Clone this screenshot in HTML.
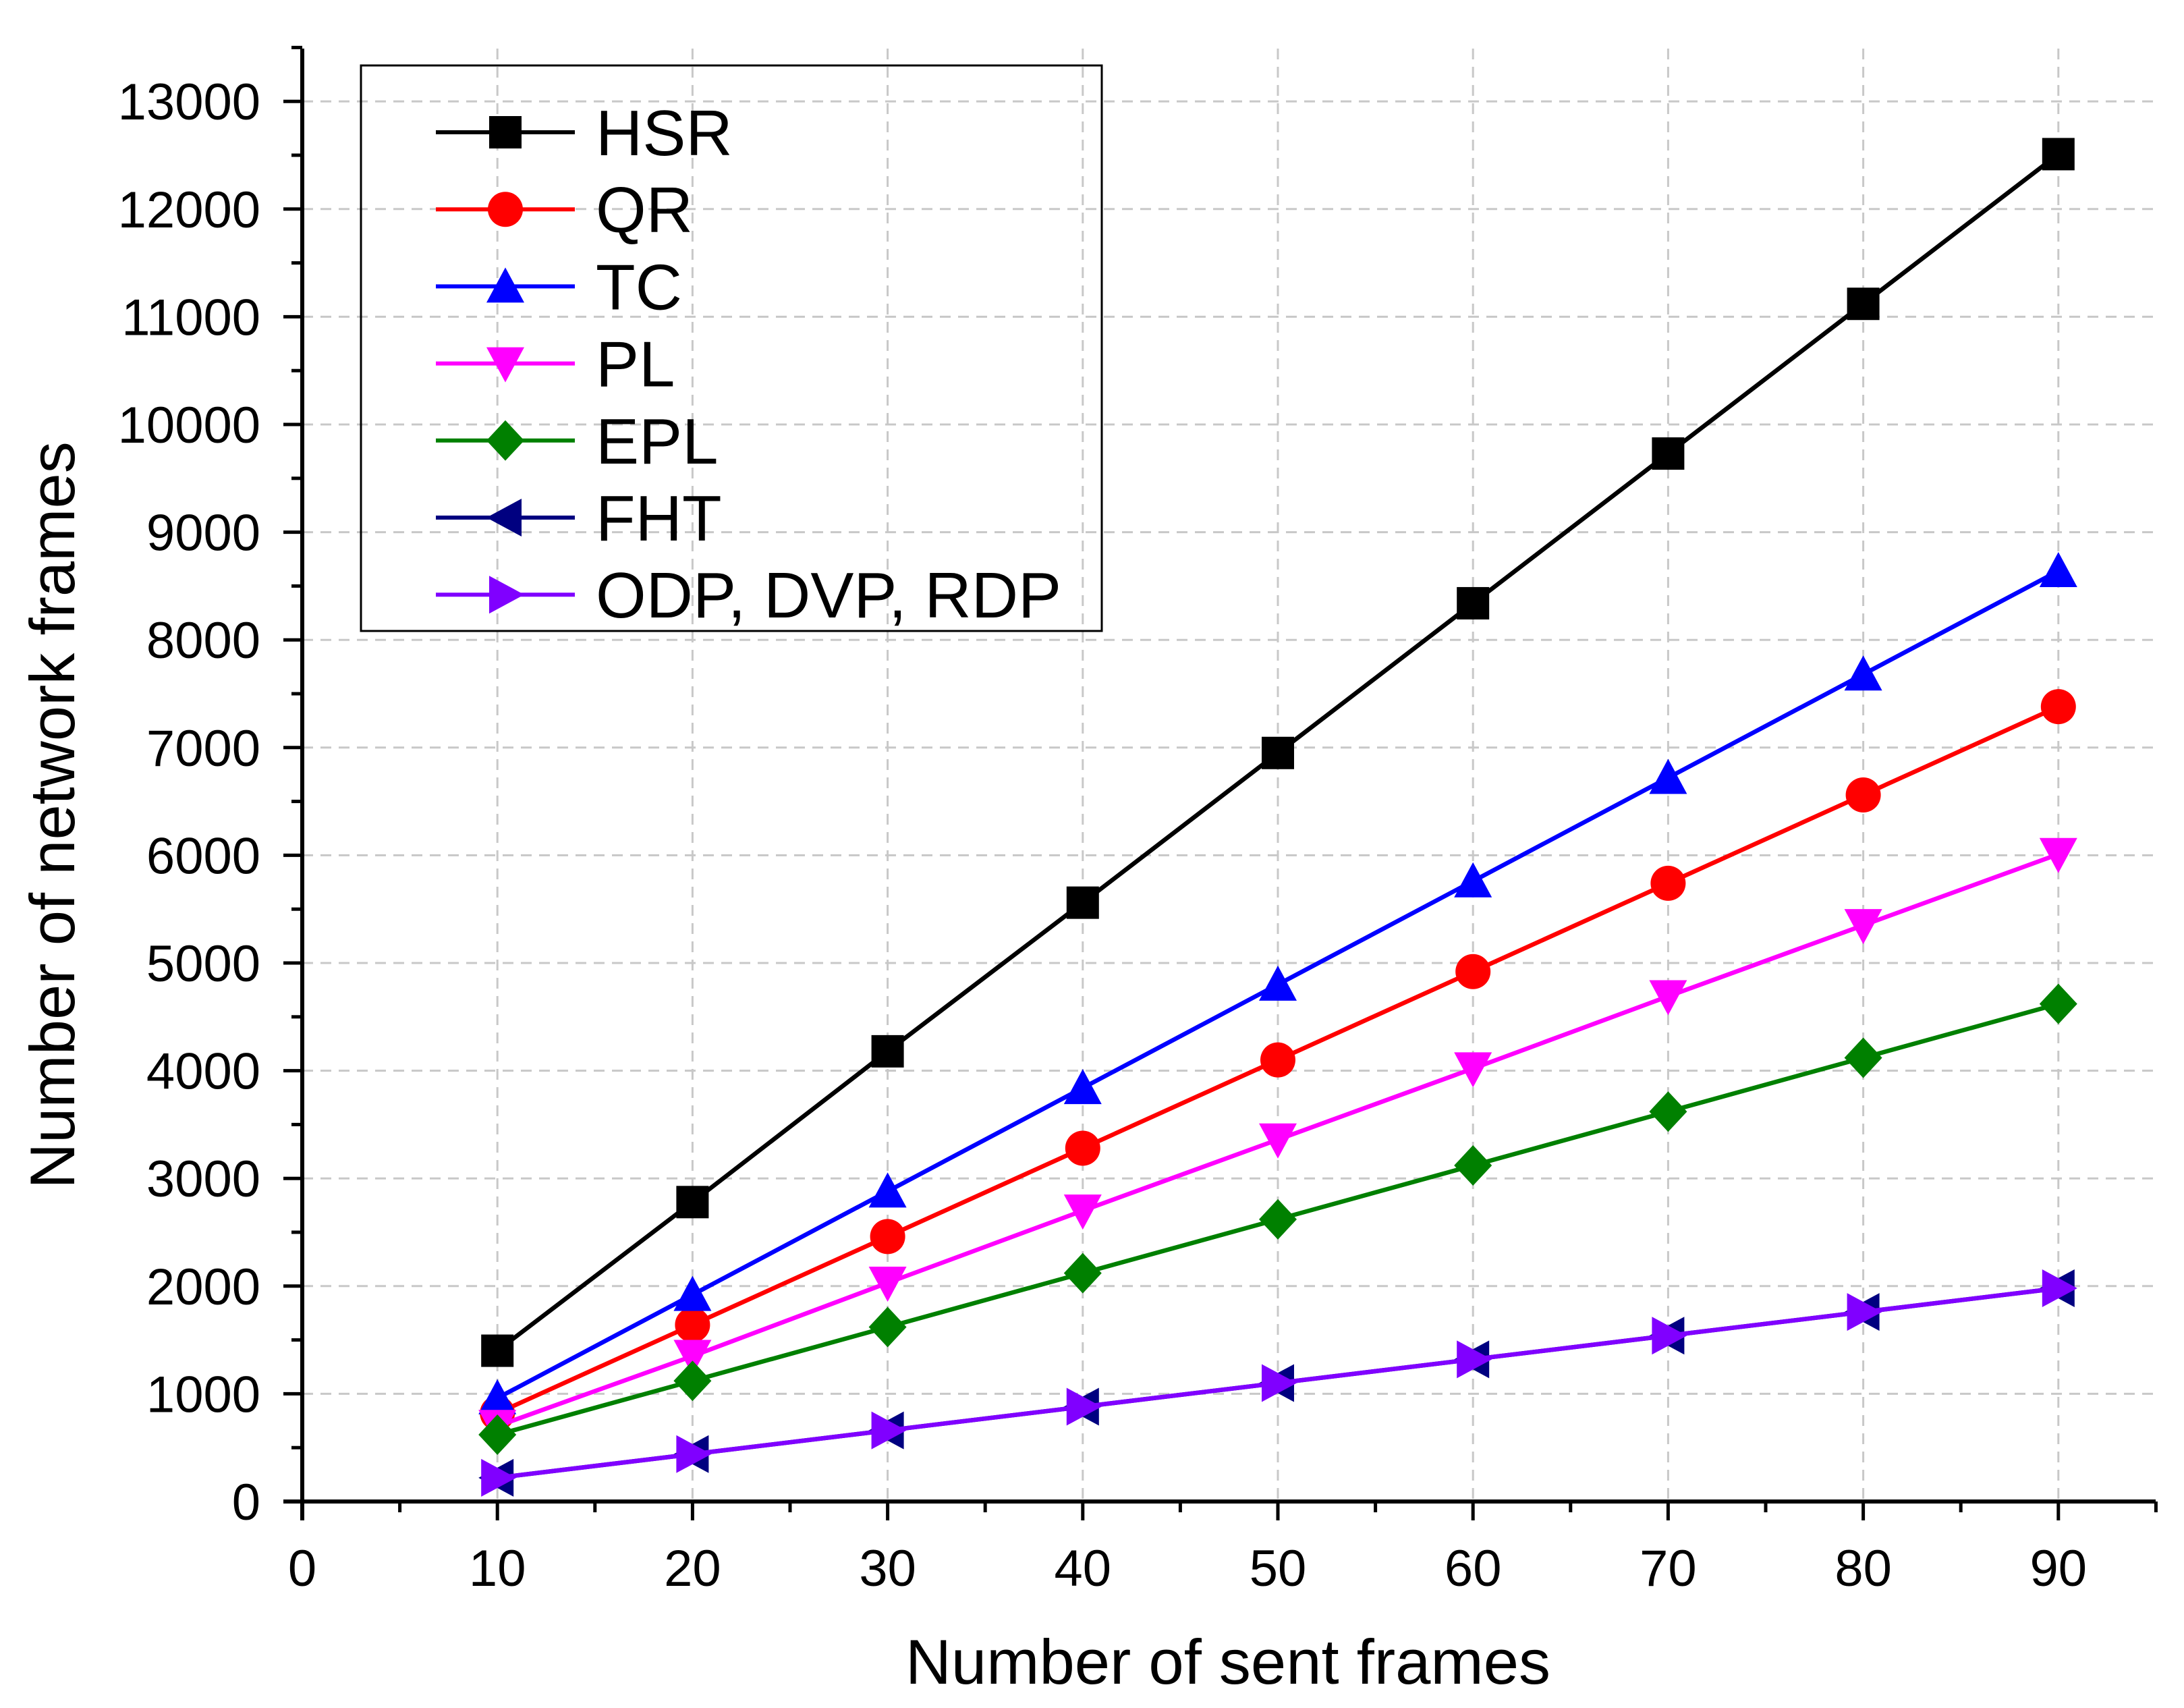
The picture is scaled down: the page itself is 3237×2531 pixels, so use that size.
<!DOCTYPE html>
<html><head><meta charset="utf-8"><style>
html,body{margin:0;padding:0;background:#fff;}
svg{display:block;font-family:"Liberation Sans",Arial,sans-serif;}
</style></head><body>
<svg id="chart" width="3237" height="2531" viewBox="0 0 3237 2531" xmlns="http://www.w3.org/2000/svg">
<g id="grid"></g>
<g id="axes"></g>
<g id="series"></g>
<g id="legend"></g>
<text x="1820" y="2495" font-size="94" text-anchor="middle">Number of sent frames</text>
<text transform="translate(110,1208) rotate(-90)" font-size="94" text-anchor="middle">Number of network frames</text>
</svg>
<script>
const xCats=[10,20,30,40,50,60,70,80,90];
const hsr=[1400,2780,4180,5560,6950,8340,9730,11120,12510];
const qr=[820,1640,2460,3280,4100,4920,5740,6560,7380];
const tc=[960,1920,2880,3840,4800,5760,6720,7680,8640];
const pl=[700,1350,2030,2700,3360,4020,4690,5350,6010];
const epl=[620,1120,1620,2120,2620,3120,3620,4120,4620];
const fht=[220,440,660,880,1100,1320,1540,1760,1980];
const odp=[220,440,660,880,1100,1320,1540,1760,1980];
const xTicks=[0,10,20,30,40,50,60,70,80,90];
const yTicks=[0,1000,2000,3000,4000,5000,6000,7000,8000,9000,10000,11000,12000,13000];
const seriesNames=["HSR","QR","TC","PL","EPL","FHT","ODP, DVP, RDP"];

const NS="http://www.w3.org/2000/svg";
const X0=448,XS=28.92,Y0=2225,YS=0.1596;
const xs=v=>X0+v*XS, ys=v=>Y0-v*YS;
function mk(tag,attrs,parent){const e=document.createElementNS(NS,tag);for(const k in attrs)e.setAttribute(k,attrs[k]);parent.appendChild(e);return e;}
const grid=document.getElementById('grid'),axes=document.getElementById('axes'),ser=document.getElementById('series'),leg=document.getElementById('legend');
const R=3195,T=72;
yTicks.forEach(v=>{if(v===0)return;const l=mk('line',{x1:X0,x2:R,y1:ys(v),y2:ys(v),stroke:'#c8c8c8','stroke-width':3,'stroke-dasharray':'16,11'},grid);

});
xTicks.forEach(v=>{if(v===0)return;const l=mk('line',{x1:xs(v),x2:xs(v),y1:T,y2:Y0,stroke:'#c8c8c8','stroke-width':3,'stroke-dasharray':'16,11'},grid);

});
const ax=mk('line',{x1:X0-28,x2:R,y1:Y0,y2:Y0,stroke:'#000','stroke-width':6},axes);


const ay=mk('line',{x1:X0,x2:X0,y1:T,y2:Y0+28,stroke:'#000','stroke-width':6},axes);


for(let v=0;v<=95;v+=5){const maj=v%10===0;const t=mk('line',{x1:xs(v),x2:xs(v),y1:Y0,y2:Y0+(maj?28:16),stroke:'#000','stroke-width':5},axes);

}
for(let v=0;v<=13500;v+=500){const maj=v%1000===0;const t=mk('line',{x1:X0,x2:X0-(maj?28:16),y1:ys(v),y2:ys(v),stroke:'#000','stroke-width':5},axes);

}
xTicks.forEach(v=>{const t=mk('text',{x:xs(v),y:2350,'font-size':76,'text-anchor':'middle'},axes);t.textContent=v;

});
yTicks.forEach(v=>{const t=mk('text',{x:386,y:ys(v)+27,'font-size':76,'text-anchor':'end'},axes);t.textContent=v;

});
function marker(type,cx,cy,color,parent){const s=24;let pts;
 if(type==='square')return mk('rect',{x:cx-s,y:cy-s,width:2*s,height:2*s,fill:color},parent);
 if(type==='circle')return mk('circle',{cx:cx,cy:cy,r:s+2,fill:color},parent);
 if(type==='up')pts=[[cx,cy-s-4],[cx+s+4,cy+s],[cx-s-4,cy+s]];
 if(type==='down')pts=[[cx,cy+s+4],[cx+s+4,cy-s],[cx-s-4,cy-s]];
 if(type==='diamond')pts=[[cx,cy-s-6],[cx+s+4,cy],[cx,cy+s+6],[cx-s-4,cy]];
 if(type==='left')pts=[[cx-s-4,cy],[cx+s,cy-s-4],[cx+s,cy+s+4]];
 if(type==='right')pts=[[cx+s+4,cy],[cx-s,cy-s-4],[cx-s,cy+s+4]];
 return mk('polygon',{points:pts.map(p=>p.join(',')).join(' '),fill:color},parent);}
const defs=[[hsr,'#000','square'],[qr,'#ff0000','circle'],[tc,'#0000ff','up'],[pl,'#ff00ff','down'],[epl,'#008000','diamond'],[fht,'#000080','left'],[odp,'#8000ff','right']];
defs.forEach((d,i)=>{const g=mk('g',{},ser);
 
 
 const p=mk('polyline',{points:d[0].map((v,j)=>xs(xCats[j])+','+ys(v)).join(' '),fill:'none',stroke:d[1],'stroke-width':6.5},g);
 
 
 d[0].forEach((v,j)=>{const m=marker(d[2],xs(xCats[j]),ys(v),d[1],g);
  
  });
 const ly=196+i*114.2;
 const lg=mk('g',{},leg);
 
 
 mk('line',{x1:646,x2:852,y1:ly,y2:ly,stroke:d[1],'stroke-width':6},lg);
 marker(d[2],749,ly,d[1],lg);
 const t=mk('text',{x:883,y:ly+34,'font-size':96},lg);t.textContent=seriesNames[i];});
const box=mk('rect',{x:535,y:97,width:1098,height:838,fill:'none',stroke:'#000','stroke-width':3},leg);


</script>
</body></html>
